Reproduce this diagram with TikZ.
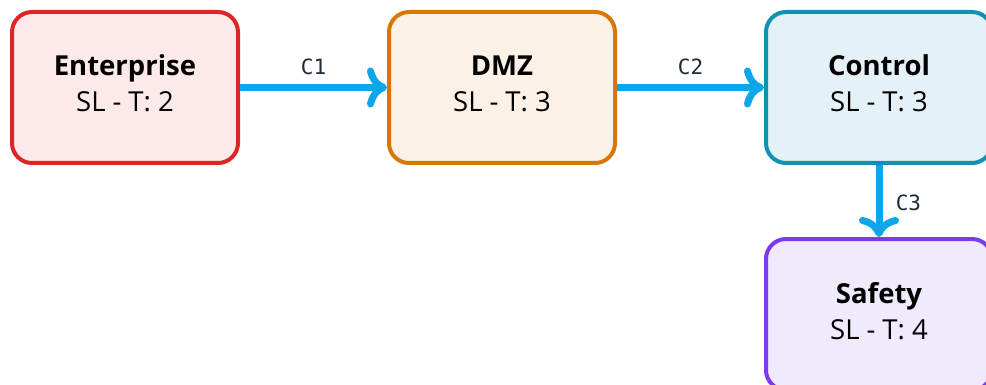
\documentclass[tikz,border=0pt]{standalone}
\usepackage{fontspec}
\setmainfont{Open Sans}
\newfontfamily\tagfont{DejaVu Sans Mono}
\usepackage{tikz}
\usetikzlibrary{arrows.meta, positioning}

\definecolor{entline}{HTML}{DC2626}
\definecolor{entfill}{HTML}{FCE9E9}
\definecolor{dmzline}{HTML}{D97706}
\definecolor{dmzfill}{HTML}{FBF1E6}
\definecolor{ctlline}{HTML}{0E91B2}
\definecolor{ctlfill}{HTML}{E4F2F7}
\definecolor{safline}{HTML}{7C3AED}
\definecolor{saffill}{HTML}{F1E9FC}
\definecolor{conduitblue}{HTML}{0EA5E9}
\definecolor{tagtext}{HTML}{1F2937}

\newcommand{\slt}[1]{SL\kern7pt-\kern7pt T: #1\rule[-8pt]{0pt}{8pt}}

\begin{document}
\begin{tikzpicture}[
  x=1pt, y=1pt,
  node distance=72pt and 147pt,
  zone/.style={draw, line width=4pt, rounded corners=20pt, minimum width=226pt, minimum height=151pt, align=center, font=\fontsize{27.5}{36}\selectfont, text=black},
  conduit/.style={-{Computer Modern Rightarrow[length=20pt,width=40pt]}, line width=7pt, draw=conduitblue},
  tag/.style={font=\tagfont\fontsize{21}{21}\selectfont, text=tagtext}
]
\useasboundingbox (0,0) rectangle (986,-385);

% Zones
\node[zone, draw=entline, fill=entfill] (ent) at (125,-87.5) {\textbf{Enterprise}\\\slt{2}};
\node[zone, draw=dmzline, fill=dmzfill, right=of ent] (dmz) {\textbf{DMZ}\\\slt{3}};
\node[zone, draw=ctlline, fill=ctlfill, right=of dmz] (ctl) {\textbf{Control}\\\slt{3}};
\node[zone, draw=safline, fill=saffill, below=of ctl] (saf) {\textbf{Safety}\\\slt{4}};

% Conduits
\draw[conduit] (ent) -- node[tag, above=6pt] {C1} (dmz);
\draw[conduit] (dmz) -- node[tag, above=6pt] {C2} (ctl);
\draw[conduit] (ctl) -- node[tag, right=10pt, pos=0.52] {C3} (saf);
\end{tikzpicture}
\end{document}
